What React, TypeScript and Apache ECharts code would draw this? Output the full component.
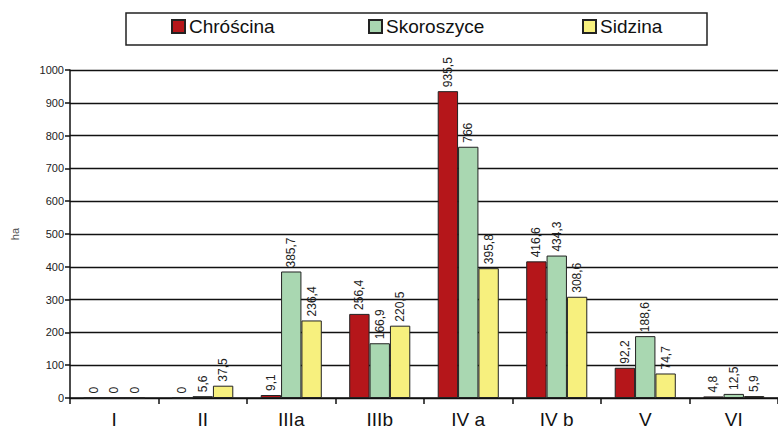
import React, { useEffect, useRef } from "react";
import * as echarts from "echarts";

const categories = ["I", "II", "IIIa", "IIIb", "IV a", "IV b", "V", "VI"];
const chroscina = [0, 0, 9.1, 256.4, 935.5, 416.6, 92.2, 4.8];
const skoroszyce = [0, 5.6, 385.7, 166.9, 766, 434.3, 188.6, 12.5];
const sidzina = [0, 37.5, 236.4, 220.5, 395.8, 308.6, 74.7, 5.9];
const seriesNames = ["Chróścina", "Skoroszyce", "Sidzina"];
const colors = ["#b5161a", "#a9d7b1", "#f7f07e"];
const yTicks = { min: 0, max: 1000, interval: 100 };

export default function App() {
  const ref = useRef<HTMLDivElement>(null);
  useEffect(() => {
    if (!ref.current) return;
    const chart = echarts.init(ref.current, undefined, { renderer: "svg" });
    const font = "Liberation Sans, Arial, sans-serif";
    const data = [chroscina, skoroszyce, sidzina];
    const legendLeft = [171, 368, 582];
    chart.setOption({
      animation: false,
      backgroundColor: "#ffffff",
      textStyle: { fontFamily: font },
      graphic: [
        {
          type: "rect",
          shape: { x: 126, y: 13, width: 581, height: 32 },
          style: { fill: "none", stroke: "#222", lineWidth: 1.5 },
        },
      ],
      legend: seriesNames.map((n, i) => ({
        data: [n],
        left: legendLeft[i],
        top: 17,
        padding: 0,
        itemWidth: 13,
        itemHeight: 13,
        itemGap: 4,
        icon: "rect",
        textStyle: { fontSize: 19, color: "#111", fontFamily: font, padding: [0, 0, 0, -1] },
        selectedMode: false,
      })),
      grid: { left: 70, right: 0, top: 70, bottom: 38, containLabel: false },
      xAxis: {
        type: "category",
        data: categories,
        axisLine: { lineStyle: { color: "#111", width: 1.5 } },
        axisTick: { show: true, length: 6, lineStyle: { color: "#111", width: 1.5 } },
        axisLabel: { fontSize: 19, color: "#111", margin: 12, fontFamily: font },
      },
      yAxis: {
        type: "value",
        min: yTicks.min,
        max: yTicks.max,
        interval: yTicks.interval,
        name: "ha",
        nameLocation: "middle",
        nameRotate: 90,
        nameGap: 50,
        nameTextStyle: { fontSize: 11, color: "#555", fontFamily: font },
        axisLine: { show: true, lineStyle: { color: "#111", width: 1.5 } },
        axisTick: { show: true, length: 5, lineStyle: { color: "#111", width: 1.5 } },
        axisLabel: {
          fontSize: 11,
          color: "#222",
          margin: 6,
          fontFamily: font,
          formatter: (v: number) => String(v),
        },
        splitLine: { lineStyle: { color: "#111", width: 1.3 } },
      },
      series: seriesNames.map((n, i) => ({
        name: n,
        type: "bar",
        data: data[i],
        barGap: "0%",
        barCategoryGap: "31%",
        itemStyle: { color: colors[i], borderColor: "#222", borderWidth: 1 },
        label: {
          show: true,
          position: "top",
          rotate: 90,
          align: "left",
          verticalAlign: "middle",
          distance: 4,
          fontSize: 12,
          color: "#222",
          fontFamily: font,
          formatter: (p: any) => String(p.value).replace(".", ","),
        },
      })),
    });
    return () => chart.dispose();
  }, []);
  return (
    <div
      ref={ref}
      style={{ position: "fixed", left: 0, top: 0, width: 778, height: 436 }}
    />
  );
}
